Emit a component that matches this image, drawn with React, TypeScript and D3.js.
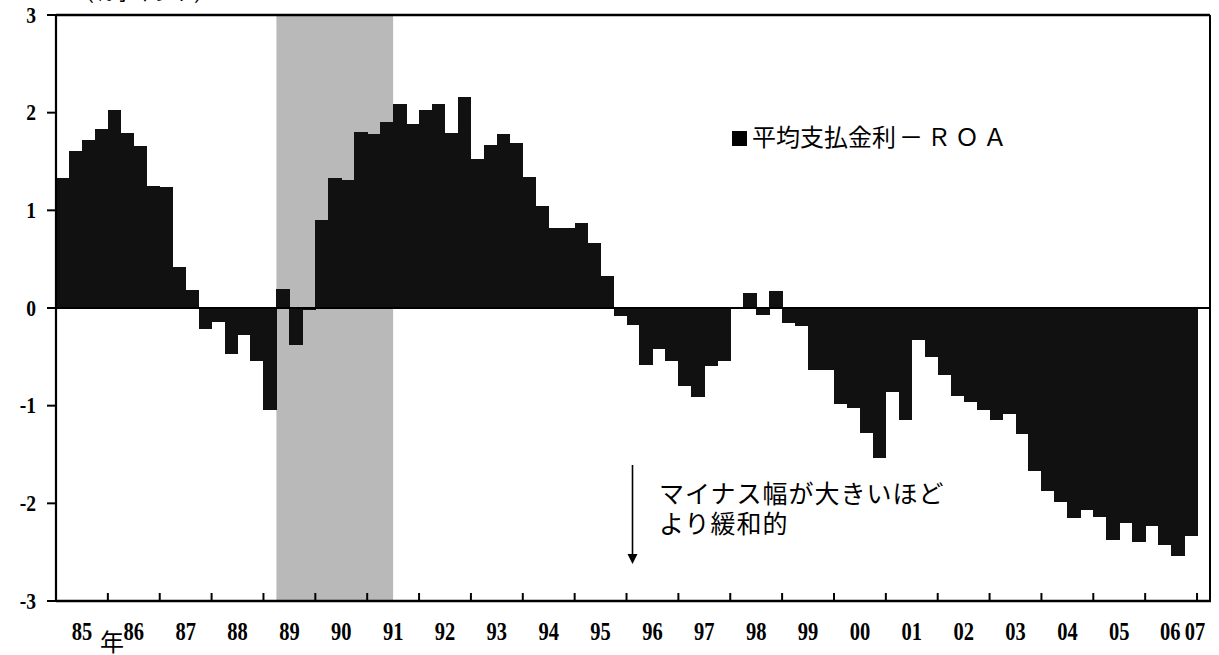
import * as d3 from "d3";
import { useEffect, useRef } from "react";

// quarterly values, 1985Q1 .. 2006Q4 (平均支払金利 − ROA, %pt)
const values: number[] = [
  1.33, 1.61, 1.72, 1.83, // 85
  2.03, 1.79, 1.66, 1.25, // 86
  1.24, 0.42, 0.18, -0.21, // 87
  -0.14, -0.47, -0.28, -0.54, // 88
  -1.04, 0.19, -0.38, -0.02, // 89
  0.9, 1.33, 1.31, 1.8, // 90
  1.78, 1.9, 2.09, 1.88, // 91
  2.03, 2.09, 1.79, 2.16, // 92
  1.53, 1.67, 1.78, 1.69, // 93
  1.34, 1.04, 0.82, 0.82, // 94
  0.87, 0.67, 0.33, -0.08, // 95
  -0.17, -0.58, -0.42, -0.54, // 96
  -0.8, -0.91, -0.59, -0.54, // 97
  -0.01, 0.15, -0.07, 0.17, // 98
  -0.15, -0.18, -0.63, -0.63, // 99
  -0.98, -1.02, -1.28, -1.54, // 00
  -0.86, -1.15, -0.33, -0.5, // 01
  -0.69, -0.9, -0.96, -1.04, // 02
  -1.15, -1.09, -1.29, -1.67, // 03
  -1.87, -1.99, -2.15, -2.07, // 04
  -2.14, -2.38, -2.2, -2.4, // 05
  -2.23, -2.43, -2.54, -2.33, // 06
];

const yearLabels = [
  "85", "86", "87", "88", "89", "90", "91", "92", "93", "94", "95", "96",
  "97", "98", "99", "00", "01", "02", "03", "04", "05", "06", "07",
];
const yTicks = [-3, -2, -1, 0, 1, 2, 3];
const shadeFrom = "1989Q2";
const shadeTo = "1991Q2";
const legendLabel = "平均支払金利";
const legendSuffix = "－ＲＯＡ";
const unitLabel = "（％ポイント）";
const noteLines = ["マイナス幅が大きいほど", "より緩和的"];

const W = 1219;
const H = 655;
const NUM_FONT = "'Liberation Serif', 'DejaVu Serif', serif";
const JP_FONT = "'Noto Sans CJK JP', 'Noto Sans', sans-serif";

export default function App() {
  const svgRef = useRef<SVGSVGElement | null>(null);

  useEffect(() => {
    if (!svgRef.current) return;
    const margin = { top: 15, right: 9, bottom: 54, left: 56 };

    // quarter keys: 1985Q1 .. 2007Q1 (last slot empty)
    const quarters: string[] = [];
    for (let y = 1985; y <= 2007; y++) {
      for (let q = 1; q <= 4; q++) {
        if (y === 2007 && q > 1) break;
        quarters.push(`${y}Q${q}`);
      }
    }
    const data = values.map((v, i) => ({ key: quarters[i], value: v }));

    const x = d3
      .scaleBand<string>()
      .domain(quarters)
      .range([margin.left, W - margin.right])
      .padding(0);

    const y = d3
      .scaleLinear()
      .domain([-3, 3])
      .range([H - margin.bottom, margin.top]);

    const svg = d3.select(svgRef.current);
    svg.selectAll("*").remove();

    const x0 = margin.left;
    const x1 = W - margin.right;
    const yTop = y(3);
    const yBot = y(-3);

    // shaded period
    svg
      .append("rect")
      .attr("x", x(shadeFrom)!)
      .attr("y", yTop)
      .attr("width", x(shadeTo)! + x.bandwidth() - x(shadeFrom)!)
      .attr("height", yBot - yTop)
      .attr("fill", "#b9b9b9");

    // bars
    svg
      .append("g")
      .attr("shape-rendering", "crispEdges")
      .selectAll("rect")
      .data(data)
      .join("rect")
      .attr("x", (d) => x(d.key)!)
      .attr("width", x.bandwidth() + 0.5)
      .attr("y", (d) => y(Math.max(0, d.value)))
      .attr("height", (d) => Math.abs(y(d.value) - y(0)))
      .attr("fill", "#111");

    // zero line
    svg
      .append("line")
      .attr("x1", x0)
      .attr("x2", x1)
      .attr("y1", y(0))
      .attr("y2", y(0))
      .attr("stroke", "#000")
      .attr("stroke-width", 2.2);

    // frame
    const frame = svg.append("g").attr("stroke", "#000").attr("fill", "none");
    frame.append("line").attr("x1", x0).attr("x2", x1).attr("y1", yTop).attr("y2", yTop).attr("stroke-width", 2.5);
    frame.append("line").attr("x1", x1).attr("x2", x1).attr("y1", yTop).attr("y2", yBot).attr("stroke-width", 2);
    frame.append("line").attr("x1", x0).attr("x2", x1 + 1).attr("y1", yBot).attr("y2", yBot).attr("stroke-width", 2.5);
    frame.append("line").attr("x1", x0).attr("x2", x0).attr("y1", yTop - 1).attr("y2", yBot + 1).attr("stroke-width", 2.2);

    // y ticks + labels
    const yAxis = svg.append("g");
    yTicks.forEach((t) => {
      yAxis
        .append("line")
        .attr("x1", x0 - 9)
        .attr("x2", x0)
        .attr("y1", y(t))
        .attr("y2", y(t))
        .attr("stroke", "#000")
        .attr("stroke-width", 2);
      yAxis
        .append("text")
        .attr("transform", `translate(36,${y(t)}) scale(0.85,1)`)
        .attr("dy", "0.34em")
        .attr("text-anchor", "end")
        .attr("font-family", NUM_FONT)
        .attr("font-weight", "bold")
        .attr("font-size", 23)
        .text(t < 0 ? `-${Math.abs(t)}` : `${t}`);
    });

    // x ticks at year boundaries, labels at year centers
    const xAxis = svg.append("g");
    yearLabels.forEach((lab, i) => {
      const year = 1985 + i;
      const start = x(`${year}Q1`)!;
      if (i > 0) {
        xAxis
          .append("line")
          .attr("x1", start)
          .attr("x2", start)
          .attr("y1", yBot)
          .attr("y2", yBot - 8)
          .attr("stroke", "#000")
          .attr("stroke-width", 2);
      }
      const cx = year === 2007 ? start - 2 : year === 2006 ? start + 25 : start + x.bandwidth() * 2;
      xAxis
        .append("text")
        .attr("transform", `translate(${cx},640) scale(0.82,1)`)
        .attr("text-anchor", "middle")
        .attr("font-family", NUM_FONT)
        .attr("font-weight", "bold")
        .attr("font-size", 25)
        .text(lab);
    });

    // 年
    svg
      .append("text")
      .attr("x", 112)
      .attr("y", 651)
      .attr("text-anchor", "middle")
      .attr("font-family", JP_FONT)
      .attr("font-size", 24)
      .text("年");

    // unit label (cropped at top)
    svg
      .append("text")
      .attr("x", 74)
      .attr("y", 1)
      .attr("font-family", JP_FONT)
      .attr("font-size", 20)
      .text(unitLabel);

    // legend
    svg
      .append("rect")
      .attr("x", 732)
      .attr("y", 131)
      .attr("width", 15)
      .attr("height", 15)
      .attr("fill", "#000");
    const leg = svg
      .append("text")
      .attr("x", 752)
      .attr("y", 146)
      .attr("font-family", JP_FONT)
      .attr("font-size", 24);
    leg.append("tspan").text(legendLabel);
    leg.append("tspan").attr("dx", 3).attr("letter-spacing", 4).text(legendSuffix);

    // note + arrow
    const note = svg
      .append("text")
      .attr("font-family", JP_FONT)
      .attr("font-size", 25)
      .attr("letter-spacing", 1);
    noteLines.forEach((l, i) => {
      note.append("tspan").attr("x", 659).attr("y", 503 + i * 30).text(l);
    });
    svg
      .append("line")
      .attr("x1", 632.5)
      .attr("x2", 632.5)
      .attr("y1", 465)
      .attr("y2", 556)
      .attr("stroke", "#000")
      .attr("stroke-width", 1.6);
    svg
      .append("path")
      .attr("d", "M627.5,554 L637.5,554 L632.5,564 Z")
      .attr("fill", "#000");
  }, []);

  return (
    <svg
      ref={svgRef}
      width={W}
      height={H}
      style={{ position: "absolute", left: 0, top: 0, background: "#fff" }}
    ></svg>
  );
}
